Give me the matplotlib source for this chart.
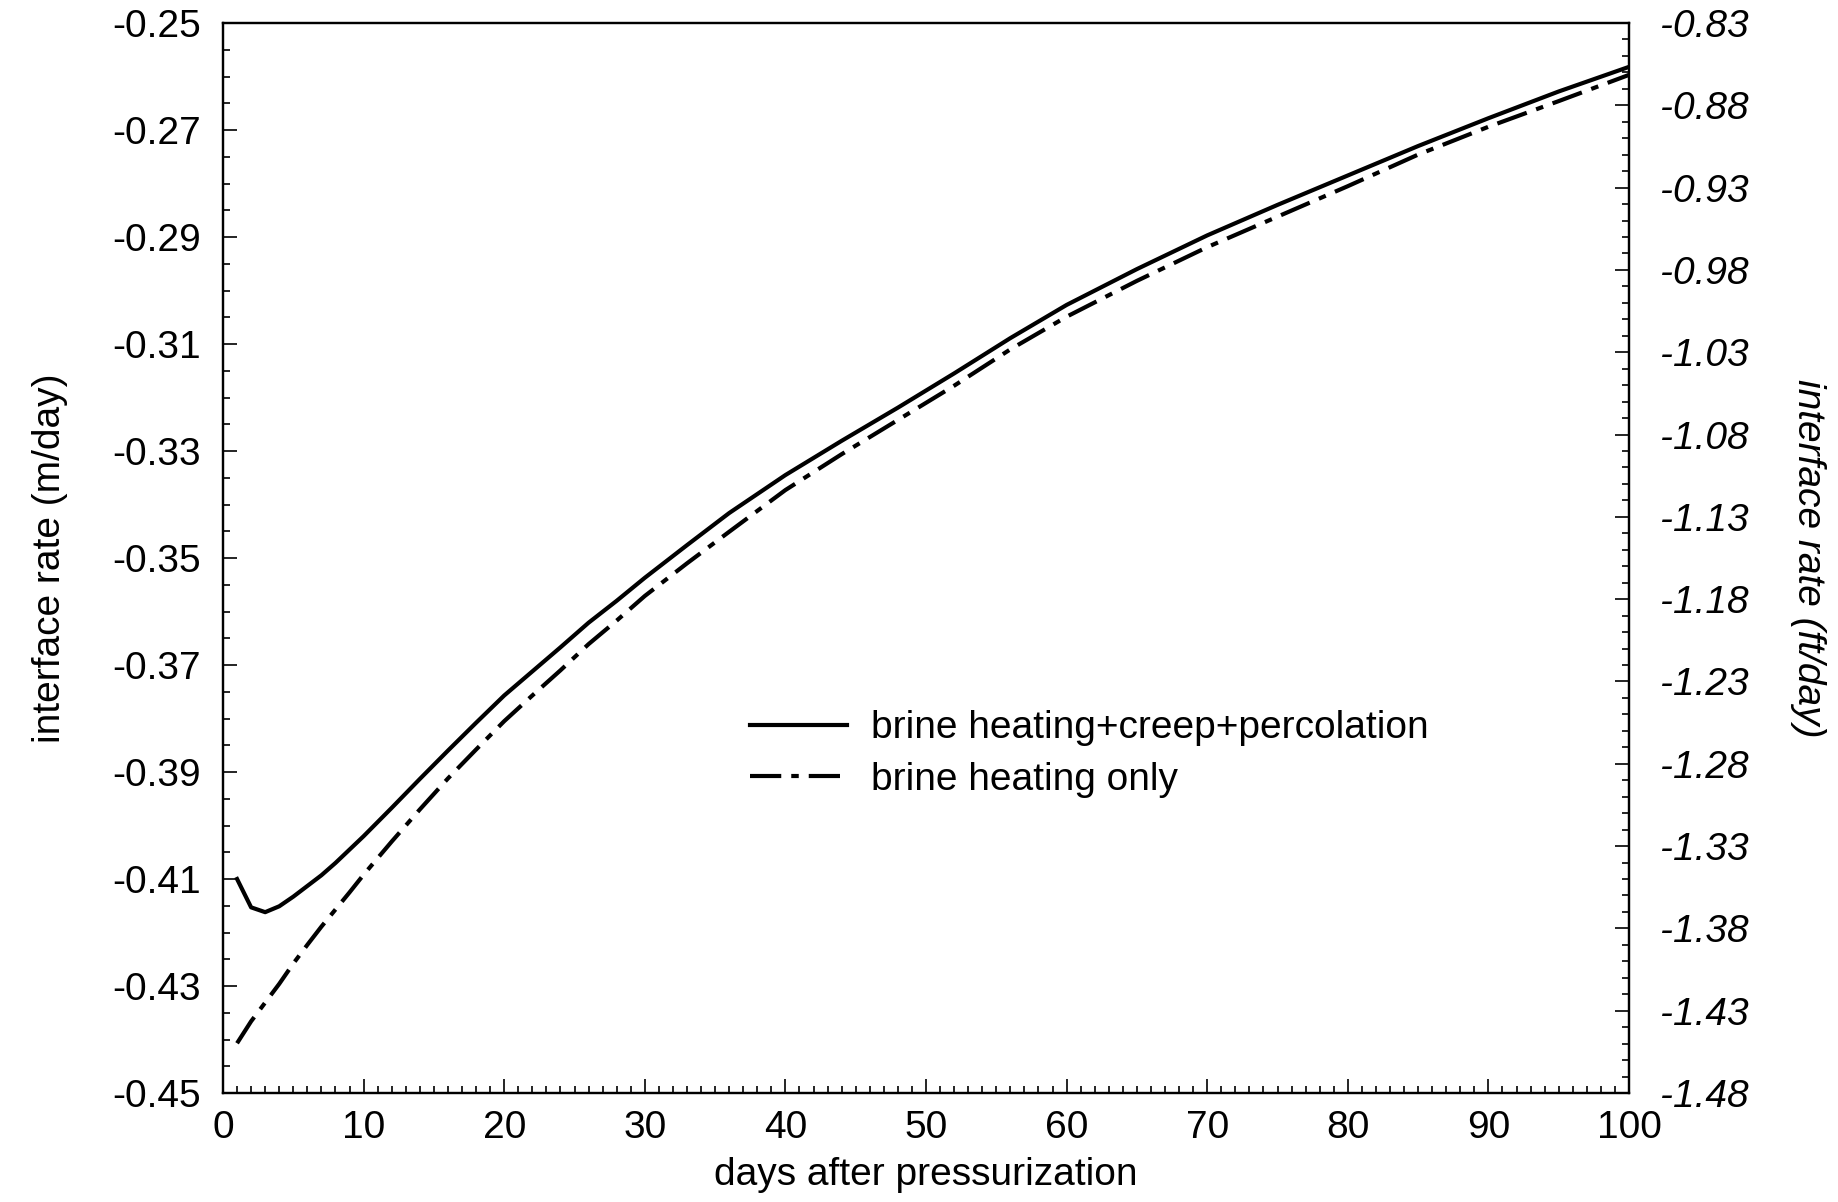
import matplotlib
matplotlib.use("Agg")
import matplotlib.pyplot as plt
from matplotlib.ticker import MultipleLocator, FixedLocator, FormatStrFormatter

days = [1, 2, 3, 4, 5, 6, 7, 8, 9, 10, 12, 14, 16, 18, 20, 22, 24, 26, 28, 30,
        33, 36, 40, 44, 48, 52, 56, 60, 65, 70, 75, 80, 85, 90, 95, 100]
full_model = [-0.4100, -0.4153, -0.4162, -0.4151, -0.4133, -0.4113, -0.4093, -0.4070,
              -0.4045, -0.4020, -0.3967, -0.3913, -0.3860, -0.3808, -0.3757, -0.3712,
              -0.3667, -0.3621, -0.3580, -0.3537, -0.3476, -0.3416, -0.3345, -0.3281,
              -0.3219, -0.3155, -0.3089, -0.3027, -0.2960, -0.2897, -0.2840, -0.2785,
              -0.2730, -0.2678, -0.2628, -0.2582]
heating_only = [-0.4407, -0.4366, -0.4331, -0.4296, -0.4258, -0.4223, -0.4189, -0.4157,
                -0.4125, -0.4092, -0.4030, -0.3970, -0.3912, -0.3858, -0.3805, -0.3757,
                -0.3710, -0.3661, -0.3617, -0.3571, -0.3510, -0.3451, -0.3373, -0.3306,
                -0.3242, -0.3178, -0.3110, -0.3049, -0.2982, -0.2919, -0.2862, -0.2805,
                -0.2746, -0.2694, -0.2646, -0.2597]
labels = ["brine heating+creep+percolation", "brine heating only"]
left_ticks = [-0.45, -0.43, -0.41, -0.39, -0.37, -0.35, -0.33, -0.31, -0.29, -0.27, -0.25]
right_ticks = [-1.48, -1.43, -1.38, -1.33, -1.28, -1.23, -1.18, -1.13, -1.08, -1.03,
               -0.98, -0.93, -0.88, -0.83]

plt.rcParams['font.family'] = ['Liberation Sans', 'DejaVu Sans']
plt.rcParams['axes.unicode_minus'] = False

FS = 28
fig = plt.figure(figsize=(18.38, 12.02), dpi=100)
ax = fig.add_axes([223/1838, 1 - 1093/1202, (1629 - 223)/1838, (1093 - 23)/1202])

ax.plot(days, full_model, color='black', lw=3.0, solid_joinstyle='round', label=labels[0])
ax.plot(days, heating_only, color='black', lw=3.0, linestyle=(0, (7.5, 2.4, 1.8, 2.4)),
        label=labels[1])

ax.set_xlim(0, 100)
ax.set_ylim(-0.45, -0.25)
ax.xaxis.set_major_locator(MultipleLocator(10))
ax.xaxis.set_minor_locator(MultipleLocator(1))
ax.yaxis.set_major_locator(FixedLocator(left_ticks))
ax.yaxis.set_minor_locator(MultipleLocator(0.005))
ax.yaxis.set_major_formatter(FormatStrFormatter('%.2f'))

for s in ax.spines.values():
    s.set_linewidth(1.6)

ax.tick_params(axis='both', which='both', direction='in', width=1.2, labelsize=FS)
ax.tick_params(axis='both', which='major', length=10)
ax.tick_params(axis='both', which='minor', length=5)
ax.tick_params(axis='y', which='major', pad=16)
ax.tick_params(axis='x', which='major', pad=12)
ax.tick_params(top=False, right=False, which='both')

ax.set_xlabel("days after pressurization", fontsize=FS, labelpad=8)
ax.set_ylabel("interface rate (m/day)", fontsize=FS, labelpad=32)

ax2 = ax.twinx()
ax2.set_ylim(-1.48, -0.83)
ax2.yaxis.set_major_locator(FixedLocator(right_ticks))
ax2.yaxis.set_minor_locator(MultipleLocator(0.01))
ax2.yaxis.set_major_formatter(FormatStrFormatter('%.2f'))
ax2.tick_params(axis='y', which='both', direction='in', width=1.2, labelsize=FS)
ax2.tick_params(axis='y', which='major', length=10, pad=22)
ax2.tick_params(axis='y', which='minor', length=5)
for t in ax2.get_yticklabels():
    t.set_fontstyle('italic')
ax2.set_ylabel("interface rate (ft/day)", fontsize=FS, fontstyle='italic',
               rotation=270, labelpad=56)
for s in ax2.spines.values():
    s.set_linewidth(1.6)

leg = ax.legend(loc='center left', bbox_to_anchor=((750 - 223)/1406, 1 - (754 - 23)/1070),
                frameon=False, fontsize=FS, handlelength=2.5, handletextpad=0.6,
                labelspacing=0.4, borderpad=0, borderaxespad=0)

fig.savefig("out.png", dpi=100)
